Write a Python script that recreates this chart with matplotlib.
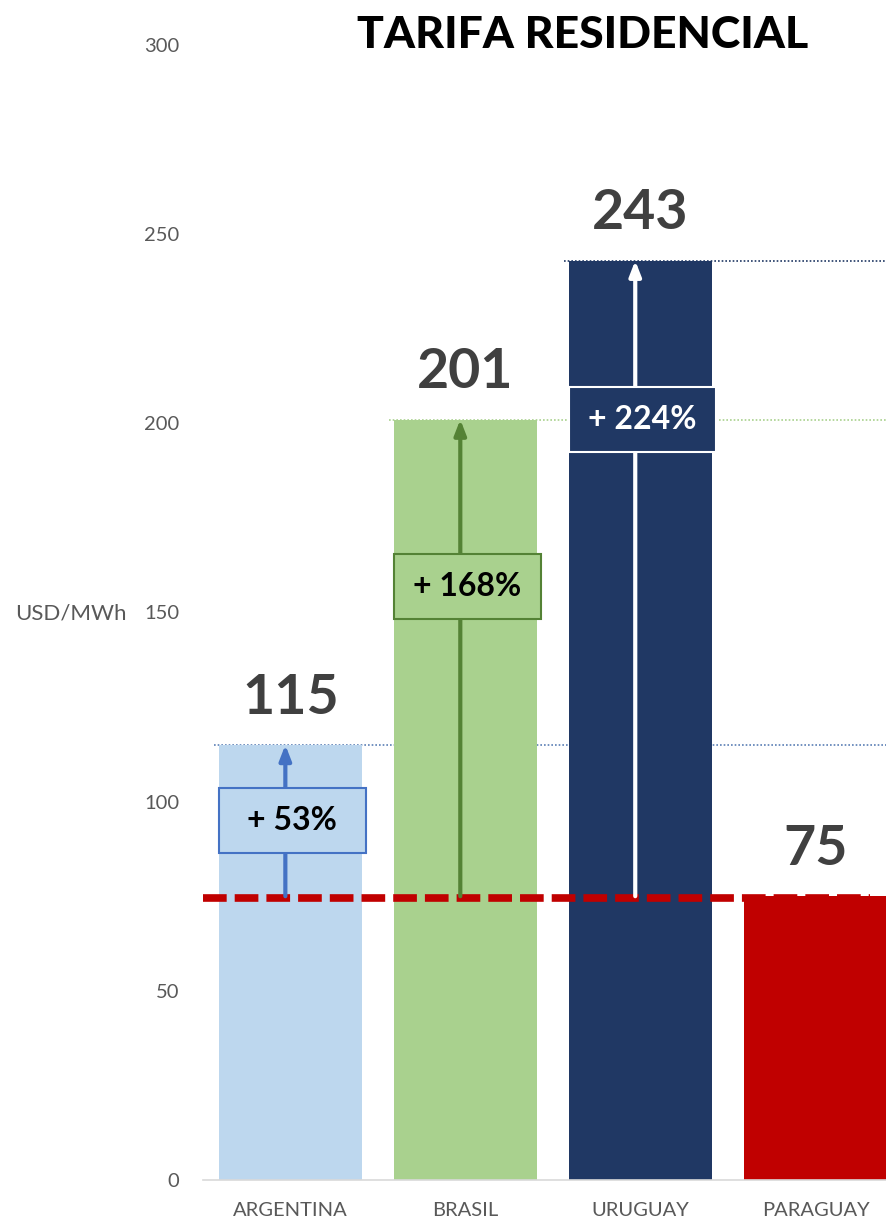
import matplotlib
matplotlib.use("Agg")
import matplotlib.pyplot as plt
from matplotlib.patches import Rectangle

plt.rcParams['font.family'] = ['Lato', 'DejaVu Sans']

# data
countries = ["ARGENTINA", "BRASIL", "URUGUAY", "PARAGUAY"]
tariffs = [115, 201, 243, 75]
increase_labels = ["+ 53%", "+ 168%", "+ 224%"]
reference = 75  # Paraguay level
y_ticks = [0, 50, 100, 150, 200, 250, 300]

# style
bar_colors = ['#BDD7EE', '#A9D18E', '#203864', '#C00000']
guide_colors = ['#5B7FB5', '#A9D18E', '#203864']
arrow_colors = ['#4472C4', '#548235', 'white']
box_edges = ['#4472C4', '#548235', 'white']
box_text = ['black', 'black', 'white']
box_frac = [0.5, 0.65, 0.75]   # box centre along each arrow
GRAY = '#595959'
VALUE_GRAY = '#404040'

fig = plt.figure(figsize=(8.87, 12.22), dpi=100)
ax = fig.add_axes([0.229, 0.0344, 0.771, 0.9288])

x = list(range(len(countries)))
width = 0.817
ax.bar(x, tariffs, width=width, color=bar_colors, zorder=2)

ax.set_xlim(-0.5, 3.409)
ax.set_ylim(0, 300)

# dotted guide lines from bar tops to the right
for i in range(3):
    ax.hlines(tariffs[i], x[i] - width / 2 - 0.03, 3.409, colors=guide_colors[i],
              linestyles=(0, (1, 1.2)), linewidth=1.2, zorder=1)

# reference dashed line
ax.plot([-0.5, 3.31], [reference - 0.5, reference - 0.5], color='#C00000', linewidth=5.5,
        dashes=(3.1, 1.05), zorder=3, dash_capstyle='butt')

# arrows and boxes
bw, bh = 0.84, 17
for i in range(3):
    ax.annotate("", xy=(x[i] - 0.03, tariffs[i]), xytext=(x[i] - 0.03, reference),
                arrowprops=dict(arrowstyle='-|>,head_length=0.9,head_width=0.35',
                                color=arrow_colors[i], lw=3, shrinkA=0, shrinkB=0),
                zorder=4)
    yc = reference + box_frac[i] * (tariffs[i] - reference)
    ax.add_patch(Rectangle((x[i] - bw / 2 + 0.01, yc - bh / 2), bw, bh,
                           facecolor=bar_colors[i], edgecolor=box_edges[i],
                           linewidth=1.5, zorder=5))
    ax.text(x[i] + 0.01, yc, increase_labels[i], ha='center', va='center',
            fontsize=23, fontweight='bold', color=box_text[i], zorder=6)

# value labels
for xi, v in zip(x, tariffs):
    ax.annotate(str(v), xy=(xi, v), xytext=(0, 34), textcoords='offset points',
                ha='center', va='center', fontsize=40, fontweight='bold',
                color=VALUE_GRAY)

ax.set_yticks(y_ticks)
ax.set_xticks(x)
ax.set_xticklabels(countries)
ax.tick_params(axis='y', length=0, labelsize=14.5, labelcolor=GRAY, pad=17)
ax.tick_params(axis='x', length=0, labelsize=14.5, labelcolor=GRAY, pad=16)
for s in ['top', 'right', 'left']:
    ax.spines[s].set_visible(False)
ax.spines['bottom'].set_color('#D9D9D9')
ax.spines['bottom'].set_linewidth(1.2)

fig.text(0.017, 1 - 613 / 1222, "USD/MWh", fontsize=16, color=GRAY,
         ha='left', va='center')
fig.text(0.657, 0.971, "TARIFA RESIDENCIAL", fontsize=32, fontweight='black',
         ha='center', va='center')

fig.savefig("out.png", dpi=100)
